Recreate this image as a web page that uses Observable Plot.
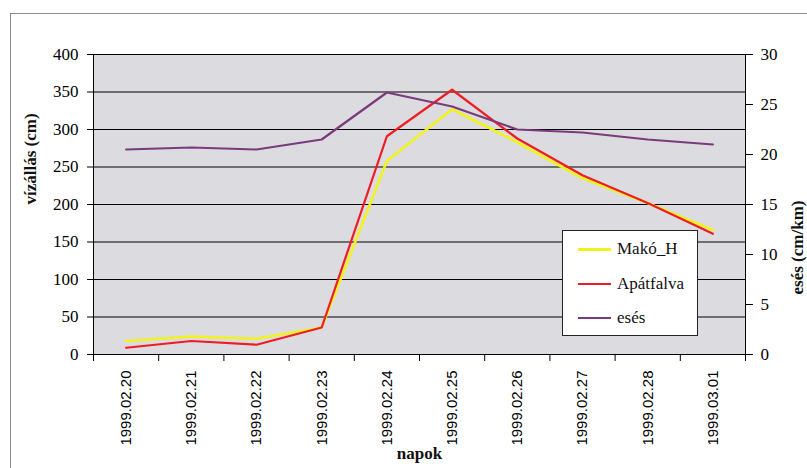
<!DOCTYPE html>
<html><head><meta charset="utf-8">
<script src="https://cdn.jsdelivr.net/npm/d3@7"></script>
<script src="https://cdn.jsdelivr.net/npm/@observablehq/plot@0.6"></script>
<style>
body{margin:0;background:#fff;}
#wrap{position:relative;width:807px;height:468px;overflow:hidden;background:#fff;}
#frame{position:absolute;left:10px;top:13px;width:840px;height:520px;border:1px solid #8c8c8c;box-sizing:border-box;pointer-events:none;}
#chart{position:absolute;left:0;top:0;}
#legend{position:absolute;left:562px;top:230px;width:136px;height:106px;background:#fff;border:1px solid #222;box-sizing:border-box;font-family:'Liberation Serif','Times New Roman','DejaVu Serif',serif;font-size:17px;color:#111;}
#legend .row{position:absolute;left:0;height:20px;display:flex;align-items:center;}
#legend .sw{width:33px;height:2px;margin-left:15px;margin-right:6px;}
svg text{font-family:'Liberation Serif','Times New Roman','DejaVu Serif',serif;}
svg text.sans, svg g.sans text{font-family:'Liberation Sans',Arial,sans-serif;}
</style></head><body>
<div id="wrap"><div id="chart"></div><div id="frame"></div><div id="legend"></div></div>
<script>
const dates = ["1999.02.20","1999.02.21","1999.02.22","1999.02.23","1999.02.24","1999.02.25","1999.02.26","1999.02.27","1999.02.28","1999.03.01"];
const mako  = [18, 24, 21, 36, 258, 327, 283, 235, 202, 166];
const apat  = [9, 18, 13, 36, 291, 353, 288, 239, 202, 161];
const eses  = [20.5, 20.7, 20.5, 21.5, 26.2, 24.8, 22.5, 22.2, 21.5, 21.0];
const leftTicks = [0, 50, 100, 150, 200, 250, 300, 350, 400];
const rightTicks = [0, 5, 10, 15, 20, 25, 30];
const seriesNames = ["Makó_H", "Apátfalva", "esés"];
const seriesColors = ["#f2f21e", "#ee1c24", "#7a3b7c"];

const k = 400 / 30;
const rows = [];
dates.forEach((d, i) => {
  rows.push({i, s: seriesNames[0], v: mako[i]});
  rows.push({i, s: seriesNames[1], v: apat[i]});
  rows.push({i, s: seriesNames[2], v: eses[i] * k});
});
const serif = "'Liberation Serif', 'Times New Roman', 'DejaVu Serif', serif";
const sans = "'Liberation Sans', Arial, sans-serif";

const plot = Plot.plot({
  width: 807, height: 468,
  marginLeft: 93, marginRight: 62, marginTop: 54, marginBottom: 114,
  style: {background: "transparent", fontFamily: serif},
  x: {type: "linear", domain: [-0.5, dates.length - 0.5]},
  y: {domain: [0, 400]},
  marks: [
    Plot.frame({fill: "#dcdce0", stroke: "none"}),
    Plot.gridY(leftTicks, {stroke: "#000", strokeOpacity: 1, strokeWidth: 1}),
    Plot.frame({stroke: "#000", strokeWidth: 1}),
    ...seriesNames.map((s, j) => Plot.line(rows.filter(r => r.s === s), {x: "i", y: "v", stroke: seriesColors[j], strokeWidth: j === 0 ? 2.6 : 2.2})),
    Plot.axisY(leftTicks, {anchor: "left", tickSize: 6, tickPadding: 9, fontSize: 17, label: null, stroke: "#000"}),
    Plot.axisY(rightTicks.map(v => v * k), {anchor: "right", tickSize: 7, tickPadding: 8, fontSize: 17, label: null, tickFormat: d => Math.round(d / k)}),
    Plot.axisX(d3.range(dates.length), {anchor: "bottom", tickSize: 0, tickPadding: 16, tickRotate: -90, tickFormat: i => dates[i], fontSize: 15, className: "sans", label: null}),
    Plot.axisX(d3.range(dates.length + 1).map(i => i - 0.5), {anchor: "bottom", tickSize: 7, tickFormat: () => "", label: null}),
    Plot.text(["vízállás (cm)"], {frameAnchor: "left", dx: -63, rotate: -90, fontSize: 17, fontWeight: "bold", fill: "#111"}),
    Plot.text(["esés (cm/km)"], {frameAnchor: "right", dx: 52, dy: -4, rotate: -90, fontSize: 17, fontWeight: "bold", fill: "#111"}),
    Plot.text(["napok"], {frameAnchor: "bottom", dy: 104, fontSize: 17, fontWeight: "bold", fill: "#111"})
  ]
});
document.getElementById("chart").appendChild(plot);
// rotated date labels use a sans face, as in the reference
plot.querySelectorAll("text").forEach(t => { if (/^\d{4}\.\d{2}\.\d{2}$/.test(t.textContent)) t.style.fontFamily = sans; });

const lg = document.getElementById("legend");
const rowTops = [8, 43, 77];
seriesNames.forEach((s, j) => {
  const r = document.createElement("div");
  r.className = "row";
  r.style.top = rowTops[j] + "px";
  const sw = document.createElement("div");
  sw.className = "sw";
  sw.style.background = seriesColors[j];
  sw.style.height = j === 0 ? "3px" : "2.5px";
  const t = document.createElement("span");
  t.textContent = s;
  r.appendChild(sw); r.appendChild(t);
  lg.appendChild(r);
});
</script>
</body></html>
